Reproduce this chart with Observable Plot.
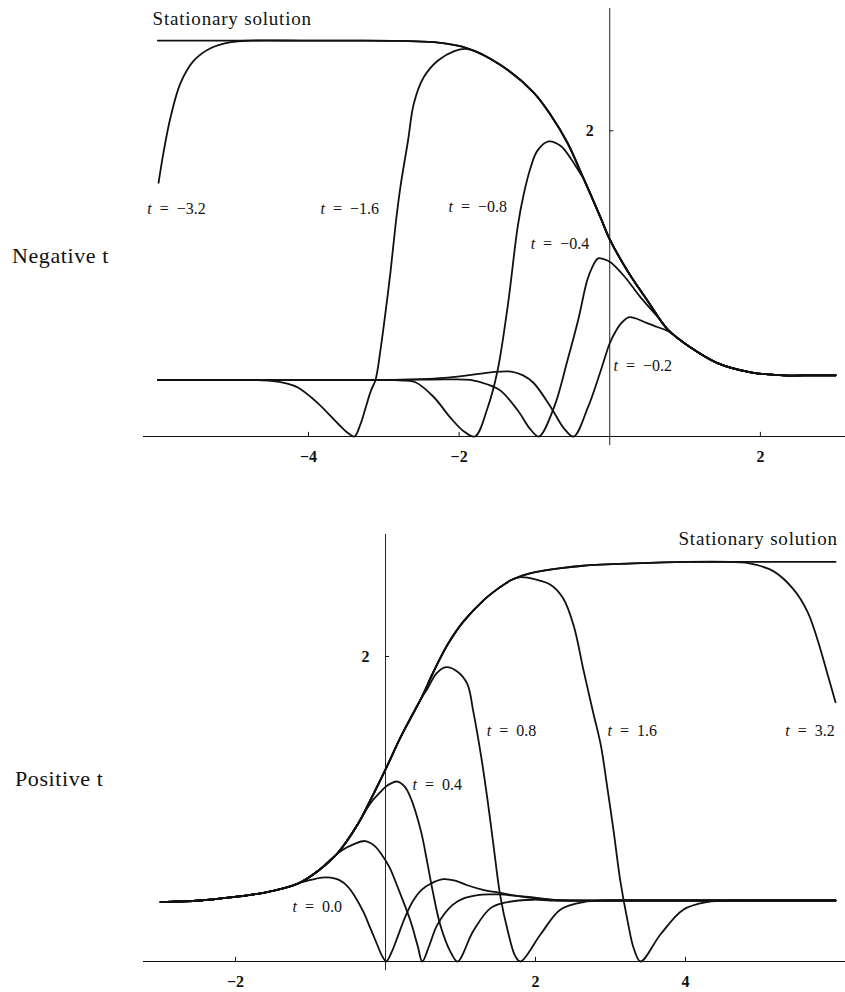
<!DOCTYPE html>
<html>
<head>
<meta charset="utf-8">
<script src="https://cdn.jsdelivr.net/npm/d3@7"></script>
<script src="https://cdn.jsdelivr.net/npm/@observablehq/plot@0.6"></script>
<style>
  body { margin: 0; background: #fff; }
  #wrap { position: relative; width: 845px; height: 992px; overflow: hidden; font-family: "Liberation Serif", serif; color: #111; }
  .side { position: absolute; font-size: 22px; line-height: 22px; letter-spacing: 0.6px; white-space: nowrap; }
  #top { position: absolute; left: 0; top: 0; }
  #bot { position: absolute; left: 0; top: 500px; }
</style>
</head>
<body>
<div id="wrap">
  <div class="side" style="left:12px; top:245px;">Negative t</div>
  <div class="side" style="left:15px; top:768px;">Positive t</div>
  <div id="top"></div>
  <div id="bot"></div>
</div>
<script>
// ---------------- Data ----------------
// Upper panel: negative t
const negStationary = [[-6.00,2.59],[-5.40,2.59],[-4.77,2.59],[-4.10,2.59],[-3.44,2.59],[-2.78,2.588],[-2.34,2.58],[-1.89,2.54],[-1.45,2.43],[-1.01,2.25],[-0.78,2.10],[-0.56,1.92],[-0.35,1.69],[-0.12,1.43],[0.00,1.29],[0.24,1.08],[0.50,0.89],[0.77,0.70],[1.08,0.58],[1.43,0.48],[1.87,0.42],[2.31,0.40],[2.70,0.40],[3.00,0.40]];
const negT32 = [[-5.99,1.66],[-5.92,1.87],[-5.83,2.09],[-5.70,2.31],[-5.52,2.46],[-5.30,2.54],[-5.03,2.58],[-4.77,2.59]];
const negT16 = [[-6.00,0.37],[-5.60,0.37],[-5.20,0.37],[-4.90,0.37],[-4.70,0.369],[-4.50,0.364],[-4.30,0.348],[-4.14,0.32],[-3.88,0.22],[-3.61,0.085],[-3.48,0.025],[-3.39,0.0],[-3.31,0.08],[-3.24,0.19],[-3.17,0.30],[-3.11,0.37],[-3.04,0.58],[-2.97,0.84],[-2.91,1.08],[-2.84,1.40],[-2.78,1.63],[-2.68,1.93],[-2.60,2.18],[-2.47,2.35],[-2.28,2.46],[-2.07,2.52],[-1.89,2.535]];
const negT08 = [[-6.00,0.37],[-5.00,0.37],[-4.00,0.37],[-3.40,0.37],[-3.10,0.37],[-2.90,0.369],[-2.74,0.366],[-2.58,0.355],[-2.34,0.26],[-2.11,0.12],[-1.94,0.035],[-1.79,0.0],[-1.62,0.19],[-1.49,0.43],[-1.35,0.87],[-1.22,1.38],[-1.14,1.59],[-1.05,1.76],[-0.96,1.87],[-0.81,1.93],[-0.65,1.90],[-0.52,1.82],[-0.39,1.72]];
const negT04 = [[-6.00,0.37],[-5.00,0.37],[-4.00,0.37],[-3.00,0.37],[-2.50,0.372],[-2.15,0.374],[-1.85,0.37],[-1.62,0.34],[-1.45,0.30],[-1.22,0.17],[-1.05,0.045],[-0.94,0.0],[-0.74,0.19],[-0.56,0.50],[-0.42,0.76],[-0.30,1.02],[-0.23,1.11],[-0.155,1.165],[-0.08,1.16],[0.01,1.14],[0.19,1.05],[0.41,0.91],[0.64,0.78]];
const negT02 = [[-6.00,0.37],[-5.00,0.37],[-4.00,0.37],[-3.00,0.37],[-2.50,0.375],[-2.20,0.383],[-1.89,0.40],[-1.58,0.42],[-1.31,0.425],[-1.15,0.40],[-1.01,0.35],[-0.78,0.19],[-0.61,0.055],[-0.48,0.0],[-0.29,0.19],[-0.12,0.43],[0.00,0.61],[0.07,0.68],[0.15,0.74],[0.25,0.78],[0.35,0.772],[0.48,0.745],[0.62,0.718],[0.77,0.69]];

// Lower panel: positive t
const posStationary = [[-3.00,0.39],[-2.47,0.40],[-2.07,0.42],[-1.63,0.45],[-1.17,0.51],[-0.91,0.59],[-0.64,0.71],[-0.37,0.90],[-0.20,1.06],[0.01,1.27],[0.20,1.47],[0.47,1.72],[0.64,1.90],[0.83,2.08],[1.04,2.23],[1.31,2.37],[1.50,2.445],[1.67,2.50],[1.89,2.54],[2.07,2.56],[2.34,2.58],[2.64,2.595],[3.31,2.61],[4.00,2.62],[4.60,2.62],[5.30,2.62],[6.00,2.62]];
const posT00 = [[-1.30,0.49],[-1.15,0.515],[-1.00,0.535],[-0.85,0.55],[-0.73,0.55],[-0.62,0.535],[-0.50,0.49],[-0.40,0.42],[-0.29,0.32],[-0.20,0.215],[-0.11,0.11],[-0.05,0.04],[0.01,0.0],[0.08,0.06],[0.16,0.16],[0.26,0.29],[0.37,0.40],[0.48,0.47],[0.60,0.51],[0.77,0.54],[0.93,0.53],[1.09,0.50],[1.30,0.47],[1.53,0.45],[1.75,0.43],[1.97,0.415],[2.20,0.405],[2.43,0.40],[3.00,0.40],[4.00,0.40],[5.00,0.40],[6.00,0.40]];
const posT02 = [[-0.72,0.675],[-0.58,0.73],[-0.42,0.77],[-0.27,0.79],[-0.15,0.76],[-0.05,0.70],[0.05,0.62],[0.16,0.49],[0.33,0.27],[0.43,0.10],[0.49,0.0],[0.58,0.10],[0.69,0.24],[0.89,0.37],[1.05,0.415],[1.23,0.435],[1.40,0.44],[1.53,0.44],[1.75,0.43],[1.97,0.42],[2.20,0.405],[2.43,0.40],[3.00,0.40],[4.00,0.40],[5.00,0.40],[6.00,0.40]];
const posT04 = [[-0.30,0.96],[-0.19,1.045],[-0.07,1.11],[0.00,1.145],[0.08,1.17],[0.16,1.18],[0.25,1.15],[0.33,1.08],[0.47,0.86],[0.56,0.64],[0.63,0.46],[0.73,0.24],[0.87,0.06],[0.96,0.0],[1.17,0.20],[1.40,0.35],[1.63,0.39],[1.97,0.405],[2.20,0.40],[2.60,0.40],[3.20,0.40],[4.00,0.40],[5.00,0.40],[6.00,0.40]];
const posT08 = [[0.56,1.79],[0.68,1.89],[0.81,1.93],[0.96,1.90],[1.09,1.82],[1.17,1.64],[1.27,1.36],[1.36,1.06],[1.44,0.76],[1.53,0.43],[1.63,0.20],[1.73,0.035],[1.80,0.0],[2.07,0.18],[2.33,0.34],[2.64,0.39],[2.96,0.40],[3.50,0.40],[4.20,0.40],[5.00,0.40],[6.00,0.40]];
const posT16 = [[1.80,2.52],[2.00,2.505],[2.20,2.47],[2.37,2.38],[2.51,2.20],[2.64,1.91],[2.77,1.63],[2.87,1.42],[2.96,1.13],[3.04,0.86],[3.13,0.53],[3.23,0.26],[3.31,0.085],[3.40,0.0],[3.67,0.18],[3.97,0.34],[4.29,0.39],[4.64,0.40],[5.00,0.40],[5.50,0.40],[6.00,0.40]];
const posT32 = [[4.80,2.615],[5.17,2.56],[5.44,2.44],[5.63,2.29],[5.76,2.11],[5.89,1.89],[6.00,1.70]];

// Tick labels
const negXTicks = [-4, -2, 2];
const posXTicks = [-2, 2, 4];
const yTicks = [2];

// Curve labels
const negLabels = [
  {text: "t = −3.2", x: -6.14, y: 1.49},
  {text: "t = −1.6", x: -3.84, y: 1.49},
  {text: "t = −0.8", x: -2.14, y: 1.50},
  {text: "t = −0.4", x: -1.05, y: 1.26},
  {text: "t = −0.2", x: 0.05, y: 0.46}
];
const posLabels = [
  {text: "t = 0.0", x: -1.24, y: 0.355},
  {text: "t = 0.4", x: 0.36, y: 1.16},
  {text: "t = 0.8", x: 1.35, y: 1.51},
  {text: "t = 1.6", x: 2.96, y: 1.51},
  {text: "t = 3.2", x: 5.33, y: 1.51}
];
const negStatLabel = [{text: "Stationary solution", x: -6.07, y: 2.73}];
const posStatLabel = [{text: "Stationary solution", x: 6.03, y: 2.77}];

// ---------------- Build ----------------
function mergeRight(own, stat) {
  const last = own[own.length - 1][0];
  return own.concat(stat.filter(p => p[0] > last + 1e-9));
}
function mergeLeft(own, stat) {
  const first = own[0][0];
  return stat.filter(p => p[0] < first - 1e-9).concat(own);
}
const negCurves = [
  ["stationary", negStationary],
  ["t=-3.2", mergeRight(negT32, negStationary)],
  ["t=-1.6", mergeRight(negT16, negStationary)],
  ["t=-0.8", mergeRight(negT08, negStationary)],
  ["t=-0.4", mergeRight(negT04, negStationary)],
  ["t=-0.2", mergeRight(negT02, negStationary)]
];
const posCurves = [
  ["stationary", posStationary],
  ["t=0.0", mergeLeft(posT00, posStationary)],
  ["t=0.2", mergeLeft(posT02, posStationary)],
  ["t=0.4", mergeLeft(posT04, posStationary)],
  ["t=0.8", mergeLeft(posT08, posStationary)],
  ["t=1.6", mergeLeft(posT16, posStationary)],
  ["t=3.2", mergeLeft(posT32, posStationary)]
];

const FONT = "Liberation Serif";
const fmt = d => String(d).replace("-", "\u2212");
const fixText = s => s.replace(/ = /g, "\u2002=\u2002");

function panel({curves, xDomain, xTicks, labels, statLabel, statAnchor, height, marginTop, marginBottom}) {
  const rows = [];
  for (const [name, pts] of curves) for (const [x, y] of pts) rows.push({name, x, y});
  const lab = labels.map(d => ({...d, text: fixText(d.text)}));
  const svg = Plot.plot({
    width: 845, height, marginLeft: 143, marginRight: 0, marginTop, marginBottom,
    x: {domain: xDomain, axis: null},
    y: {domain: [0, 2.8], axis: null},
    style: {background: "transparent", fontFamily: FONT, color: "#111", overflow: "visible"},
    marks: [
      Plot.ruleY([0], {x1: xDomain[0], x2: xDomain[1], stroke: "#111", strokeWidth: 1.2}),
      Plot.ruleX([0], {y1: -0.06, y2: 2.8, stroke: "#222", strokeWidth: 1}),
      Plot.ruleX(xTicks, {x: d => d, y1: 0, y2: 0.027, stroke: "#111", strokeWidth: 1}),
      Plot.ruleY(yTicks, {y: d => d, x1: 0, x2: 0.055, stroke: "#111", strokeWidth: 1}),
      Plot.text(xTicks, {x: d => d, y: 0, dy: 20, text: fmt, fontSize: 16, fontWeight: "bold", fontFamily: FONT, fill: "#111"}),
      Plot.text(yTicks, {x: 0, y: d => d, dx: -20, text: fmt, fontSize: 16, fontWeight: "bold", fontFamily: FONT, fill: "#111"}),
      Plot.line(rows, {x: "x", y: "y", z: "name", curve: "catmull-rom", stroke: "#111", strokeWidth: 1.8}),
      Plot.text(lab, {x: "x", y: "y", text: "text", textAnchor: "start", fontSize: 16, fontFamily: FONT, fill: "#111"}),
      Plot.text(statLabel, {x: "x", y: "y", text: "text", textAnchor: statAnchor, fontSize: 19, fontFamily: FONT, fill: "#111"})
    ]
  });
  svg.querySelectorAll("text").forEach(t => {
    const s = t.textContent;
    if (s.startsWith("t\u2002")) {
      while (t.firstChild) t.removeChild(t.firstChild);
      const ts = document.createElementNS("http://www.w3.org/2000/svg", "tspan");
      ts.setAttribute("font-style", "italic");
      ts.textContent = "t";
      t.appendChild(ts);
      t.appendChild(document.createTextNode(s.slice(1)));
    } else if (s.startsWith("Stationary")) {
      t.setAttribute("letter-spacing", "0.8");
    }
  });
  return svg;
}

document.getElementById("top").appendChild(panel({
  curves: negCurves, xDomain: [-6.19, 3.13], xTicks: negXTicks, labels: negLabels,
  statLabel: negStatLabel, statAnchor: "start", height: 470, marginTop: 8, marginBottom: 34
}));
document.getElementById("bot").appendChild(panel({
  curves: posCurves, xDomain: [-3.227, 6.133], xTicks: posXTicks, labels: posLabels,
  statLabel: posStatLabel, statAnchor: "end", height: 492, marginTop: 34, marginBottom: 31
}));
</script>
</body>
</html>
